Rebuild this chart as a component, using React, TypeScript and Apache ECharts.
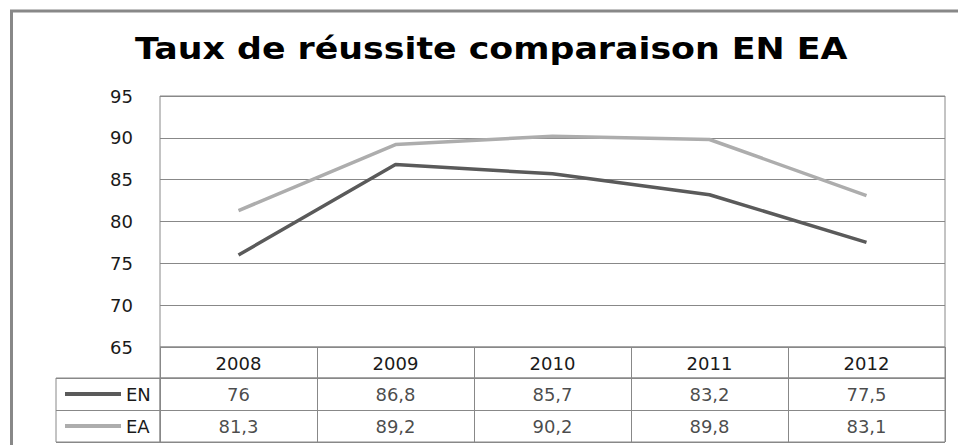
import React, { useEffect, useRef } from "react";
import * as echarts from "echarts";

const TITLE = "Taux de réussite comparaison EN EA";
const YEARS = ["2008", "2009", "2010", "2011", "2012"];
const EN = [76, 86.8, 85.7, 83.2, 77.5];
const EA = [81.3, 89.2, 90.2, 89.8, 83.1];
const Y_MIN = 65;
const Y_MAX = 95;
const Y_STEP = 5;

const FONT = "DejaVu Sans";
const GRID_COLOR = "#888888";
const EN_COLOR = "#5a5a5a";
const EA_COLOR = "#adadad";
const TEXT_COLOR = "#1a1a1a";

const fmt = (v: number) => String(v).replace(".", ",");

export default function App() {
  const ref = useRef<HTMLDivElement>(null);
  useEffect(() => {
    document.body.style.margin = "0";
    if (!ref.current) return;
    const chart = echarts.init(ref.current, undefined, { renderer: "svg" });
    const PL = 160, PR = 945, PT = 96, PB = 347;
    const R1 = 378, R2 = 442;
    const cellLabel = (vals: (string | number)[]) => ({
      color: TEXT_COLOR,
      fontSize: 18,
      fontFamily: FONT,
      show: true,
      position: "inside",
      formatter: (p: any) => (typeof vals[p.dataIndex] === "number" ? fmt(vals[p.dataIndex] as number) : String(vals[p.dataIndex])),
    });
    const legendBase = {
      left: 60,
      itemWidth: 56,
      itemHeight: 4,
      itemGap: 4,
      icon: "rect",
      textStyle: { fontSize: 18, fontFamily: FONT, color: TEXT_COLOR },
    };
    const option: any = {
      animation: false,
      backgroundColor: "#fff",
      legend: [
        { ...legendBase, data: ["EN"], top: R1 + 2 },
        { ...legendBase, data: ["EA"], top: R1 + 34 },
      ],
      grid: [
        { left: PL, width: PR - PL, top: PT, height: PB - PT, show: true, borderColor: GRID_COLOR, borderWidth: 1 },
        { left: PL, width: PR - PL, top: PB, height: R1 - PB, show: true, borderColor: GRID_COLOR, borderWidth: 1 },
        { left: PL, width: PR - PL, top: R1, height: R2 - R1, show: true, borderColor: GRID_COLOR, borderWidth: 1 },
        { left: 56, width: PL - 56, top: R1, height: R2 - R1, show: true, borderColor: GRID_COLOR, borderWidth: 1 },
      ],
      xAxis: [
        {
          type: "category",
          gridIndex: 0,
          data: YEARS,
          boundaryGap: true,
          axisLine: { show: false },
          axisTick: { show: false },
          axisLabel: { margin: 7, color: TEXT_COLOR, fontSize: 18, fontFamily: FONT },
        },
        {
          type: "category",
          gridIndex: 1,
          data: YEARS,
          axisLine: { show: false },
          axisTick: { show: false },
          axisLabel: { show: false },
          splitLine: { show: true, interval: 0, lineStyle: { color: GRID_COLOR, width: 1 } },
        },
        {
          type: "category",
          gridIndex: 2,
          data: YEARS,
          axisLine: { show: false },
          axisTick: { show: false },
          axisLabel: { show: false },
          splitLine: { show: true, interval: 0, lineStyle: { color: GRID_COLOR, width: 1 } },
        },
        { type: "value", gridIndex: 3, show: false, min: 0, max: 1 },
      ],
      yAxis: [
        {
          type: "value",
          gridIndex: 0,
          min: Y_MIN,
          max: Y_MAX,
          interval: Y_STEP,
          axisLine: { show: false },
          axisTick: { show: false },
          axisLabel: { margin: 27, color: TEXT_COLOR, fontSize: 18, fontFamily: FONT },
          splitLine: { show: true, lineStyle: { color: GRID_COLOR, width: 1 } },
        },
        { type: "value", gridIndex: 1, show: false, min: 0, max: 1 },
        {
          type: "value",
          gridIndex: 2,
          min: 0,
          max: 2,
          interval: 1,
          axisLine: { show: false },
          axisTick: { show: false },
          axisLabel: { show: false },
          splitLine: { show: true, lineStyle: { color: GRID_COLOR, width: 1 } },
        },
        {
          type: "value",
          gridIndex: 3,
          min: 0,
          max: 2,
          interval: 1,
          axisLine: { show: false },
          axisTick: { show: false },
          axisLabel: { show: false },
          splitLine: { show: true, lineStyle: { color: GRID_COLOR, width: 1 } },
        },
      ],
      series: [
        {
          name: "EN",
          type: "line",
          xAxisIndex: 0,
          yAxisIndex: 0,
          data: EN,
          symbol: "none",
          lineStyle: { color: EN_COLOR, width: 3.5 },
          itemStyle: { color: EN_COLOR },
        },
        {
          name: "EA",
          type: "line",
          xAxisIndex: 0,
          yAxisIndex: 0,
          data: EA,
          symbol: "none",
          lineStyle: { color: EA_COLOR, width: 3.5 },
          itemStyle: { color: EA_COLOR },
        },
        {
          name: "ENrow",
          type: "scatter",
          xAxisIndex: 2,
          yAxisIndex: 2,
          data: EN.map((v, i) => [i, 1.5]),
          symbolSize: 1,
          itemStyle: { color: "rgba(0,0,0,0)" },
          label: cellLabel(EN),
          silent: true,
        },
        {
          name: "EArow",
          type: "scatter",
          xAxisIndex: 2,
          yAxisIndex: 2,
          data: EA.map((v, i) => [i, 0.5]),
          symbolSize: 1,
          itemStyle: { color: "rgba(0,0,0,0)" },
          label: cellLabel(EA),
          silent: true,
        },
      ],
      graphic: [
        {
          type: "rect",
          shape: { x: 11.5, y: 11, width: 960, height: 460 },
          style: { fill: "none", stroke: GRID_COLOR, lineWidth: 3 },
          silent: true,
        },
        {
          type: "text",
          x: 135,
          y: 49,
          scaleX: 1.16,
          style: {
            text: TITLE,
            fontFamily: FONT,
            fontWeight: "bold",
            fontSize: 30,
            fill: "#000",
            verticalAlign: "middle",
            align: "left",
          },
          silent: true,
        },
      ],
    };
    chart.setOption(option);
    return () => chart.dispose();
  }, []);
  return <div ref={ref} style={{ width: 958, height: 445 }} />;
}
